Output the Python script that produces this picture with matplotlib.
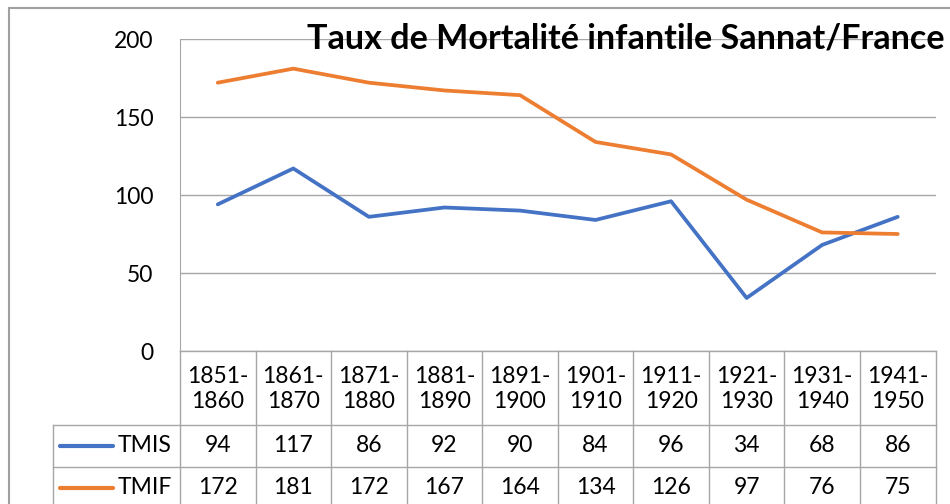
import matplotlib
matplotlib.use('Agg')
import matplotlib.pyplot as plt
from matplotlib.patches import Rectangle

periods = ['1851-\n1860', '1861-\n1870', '1871-\n1880', '1881-\n1890', '1891-\n1900',
           '1901-\n1910', '1911-\n1920', '1921-\n1930', '1931-\n1940', '1941-\n1950']
tmis = [94, 117, 86, 92, 90, 84, 96, 34, 68, 86]
tmif = [172, 181, 172, 167, 164, 134, 126, 97, 76, 75]
series = [('TMIS', tmis, '#4472C4'), ('TMIF', tmif, '#ED7D31')]
yticks = [0, 50, 100, 150, 200]
title = 'Taux de Mortalité infantile Sannat/France'

plt.rcParams['font.family'] = ['Lato', 'DejaVu Sans']
W, H = 950, 504
grid_col = '#A6A6A6'

fig = plt.figure(figsize=(W / 100, H / 100), dpi=100)

# outer chart border (cut off by the screenshot on right/bottom)
fig.patches.append(Rectangle((9 / W, -0.1), 1.2, 1 - 8 / H + 0.1, transform=fig.transFigure,
                             fill=False, edgecolor='#A0A0A0', lw=1.5))

# --- plot area ---
left, right, top, zero = 180, 935.5, 39, 351
ax = fig.add_axes([left / W, (H - zero) / H, (right - left) / W, (zero - top) / H])
ax.set_xlim(-0.5, len(periods) - 0.5)
ax.set_ylim(0, 200)
ax.set_yticks(yticks)
ax.set_xticks([])
ax.tick_params(axis='y', length=0, pad=19, labelsize=16.5)
for s in ['top', 'right', 'bottom']:
    ax.spines[s].set_visible(False)
ax.spines['left'].set_color(grid_col)
ax.grid(axis='y', color=grid_col, lw=1)
ax.set_axisbelow(True)

x = list(range(len(periods)))
for name, vals, col in series:
    ax.plot(x, vals, color=col, lw=2.7, solid_capstyle='round', solid_joinstyle='round')

# --- data table under the plot ---
bottom = 509
tab = fig.add_axes([left / W, (H - bottom) / H, (right - left) / W, (bottom - zero) / H])
tab.set_xlim(-0.5, len(periods) - 0.5)
tab.set_ylim(bottom - zero, 0)
tab.axis('off')
rows = [0, 74, 116, 158]
unit = (right - left) / len(periods)
legend_left = -0.5 - (left - 53) / unit

kw = dict(color=grid_col, lw=1, clip_on=False)
tab.plot([-0.5, len(periods) - 0.5], [rows[0], rows[0]], **kw)
for r in rows[1:]:
    tab.plot([legend_left, len(periods) - 0.5], [r, r], **kw)
for i in range(len(periods) + 1):
    tab.plot([i - 0.5, i - 0.5], [rows[0], rows[-1]], **kw)
tab.plot([legend_left, legend_left], [rows[1], rows[-1]], **kw)

for i, p in enumerate(periods):
    tab.text(i, (rows[0] + rows[1]) / 2 + 1, p, ha='center', va='center', fontsize=16.5,
             linespacing=1.2)

for k, (name, vals, col) in enumerate(series):
    yc = (rows[k + 1] + rows[k + 2]) / 2
    for i, v in enumerate(vals):
        tab.text(i, yc, str(v), ha='center', va='center', fontsize=16.5)
    lx0 = legend_left + 7 / unit
    tab.plot([lx0, lx0 + 53 / unit], [yc, yc], color=col, lw=3,
             solid_capstyle='round', clip_on=False)
    tab.text(lx0 + 58 / unit, yc, name, ha='left', va='center', fontsize=16.5)

fig.text(307 / W, 1 - 49 / H, title, ha='left', va='baseline', fontsize=24.6,
         fontweight='bold')

fig.savefig('out.png', dpi=100)
